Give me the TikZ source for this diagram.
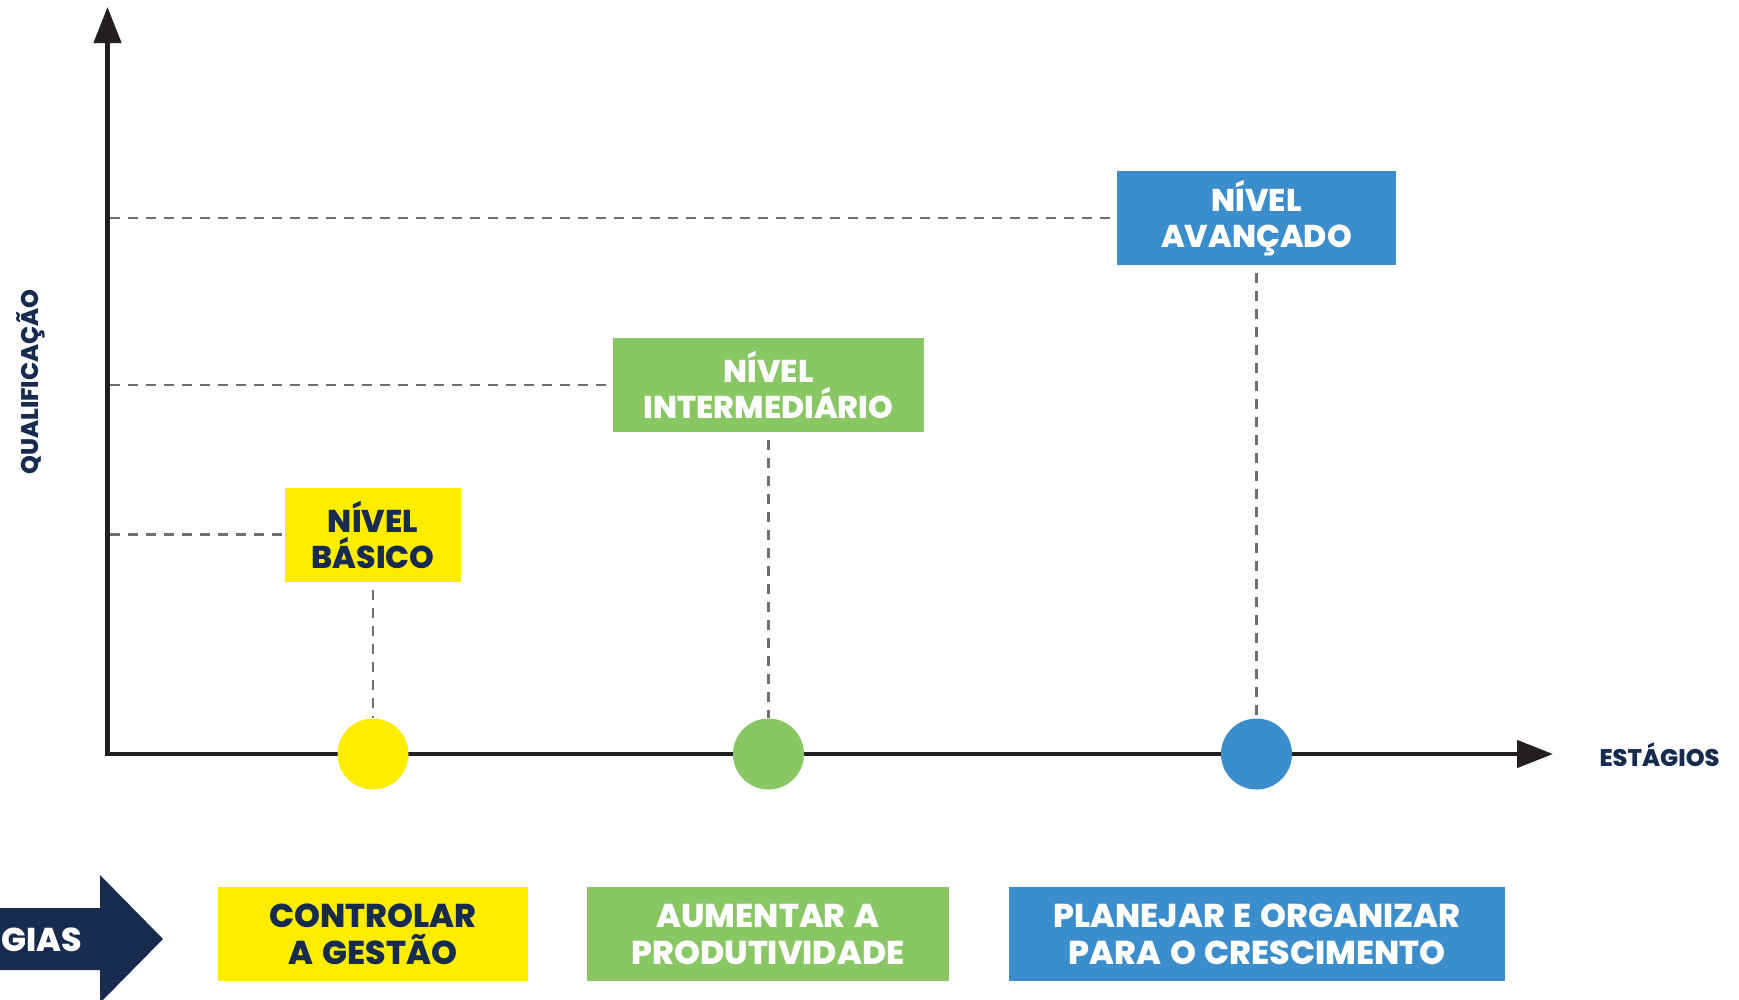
\documentclass[tikz,border=0pt]{standalone}
\usepackage{fontspec}
\setmainfont{Poppins}[BoldFont={Poppins ExtraBold}, WordSpace=1.4]
\usetikzlibrary{arrows.meta}
\definecolor{cyel}{HTML}{FFED00}
\definecolor{cgrn}{HTML}{88C764}
\definecolor{cblu}{HTML}{3B8ECB}
\definecolor{cnavy}{HTML}{172B4F}
\definecolor{cgray}{HTML}{6D6E71}
\definecolor{caxis}{HTML}{231F20}
\tikzset{
  levelbox/.style={inner sep=0pt, minimum height=94pt, align=center,
    font=\fontsize{31.5}{36}\selectfont\bfseries},
  stratbox/.style={inner sep=0pt, minimum height=94pt, align=center,
    font=\fontsize{33}{37}\selectfont\bfseries},
  guide/.style={draw=cgray, line width=2.2pt, dash pattern=on 10pt off 8pt},
  dot/.style={circle, inner sep=0pt, minimum size=71pt},
  axislabel/.style={text=cnavy, font=\fontsize{24}{28}\selectfont\bfseries},
}
\begin{document}
\begin{tikzpicture}[x=1pt,y=-1pt]
\useasboundingbox (0,0) rectangle (1739,999);
\clip (0,0) rectangle (1739,999);
% axes
\coordinate (O) at (107.5,754);
\coordinate (ytip) at (107.5,7);
\coordinate (xtip) at (1553,754);
\draw[caxis, line width=4.5pt,
  {Triangle[length=36pt,width=27pt]}-{Triangle[length=36pt,width=27pt]}]
  (ytip) -- (O) -- (xtip);
\node[axislabel, anchor=west] (est) at (1596,755) {ESTÁGIOS};
\node[axislabel, rotate=90] (qual) at (31,382) {QUALIFICAÇÃO};
% level boxes
\node[levelbox, fill=cyel, text=cnavy, minimum width=176pt] (bas) at (373,534.5) {NÍVEL\\BÁSICO};
\node[levelbox, fill=cgrn, text=white, minimum width=311pt] (int) at (768.5,385) {NÍVEL\\INTERMEDIÁRIO};
\node[levelbox, fill=cblu, text=white, minimum width=279pt] (ava) at (1256.5,218) {NÍVEL\\AVANÇADO};
% dots
\node[dot, fill=cyel] (d1) at (373,754) {};
\node[dot, fill=cgrn] (d2) at (768.5,754) {};
\node[dot, fill=cblu] (d3) at (1256.5,754) {};
% guides
\coordinate (h1) at (110,534.5);
\coordinate (h2) at (110,385);
\coordinate (h3) at (110,218);
\draw[guide] (h1) -- (bas.west);
\draw[guide] (h2) -- (int.west);
\draw[guide] (h3) -- (ava.west);
\draw[guide] ([yshift=-8pt]bas.south) -- (d1.north);
\draw[guide] ([yshift=-8pt]int.south) -- (d2.north);
\draw[guide] ([yshift=-8pt]ava.south) -- (d3.north);
% strategy arrow
\fill[cnavy] (-5,908) -- (100,908) -- (100,875) -- (163,939) -- (100,1003) -- (100,970) -- (-5,970) -- cycle;
\node[text=white, font=\fontsize{33}{37}\selectfont\bfseries, anchor=west, inner sep=0pt] (gias) at (1,940) {GIAS};
% strategy boxes
\node[stratbox, fill=cyel, text=cnavy, minimum width=310pt] (s1) at (373,934) {CONTROLAR\\A GESTÃO};
\node[stratbox, fill=cgrn, text=white, minimum width=362pt] (s2) at (768,934) {AUMENTAR A\\PRODUTIVIDADE};
\node[stratbox, fill=cblu, text=white, minimum width=496pt] (s3) at (1257,934) {PLANEJAR E ORGANIZAR\\PARA O CRESCIMENTO};
\end{tikzpicture}
\end{document}
